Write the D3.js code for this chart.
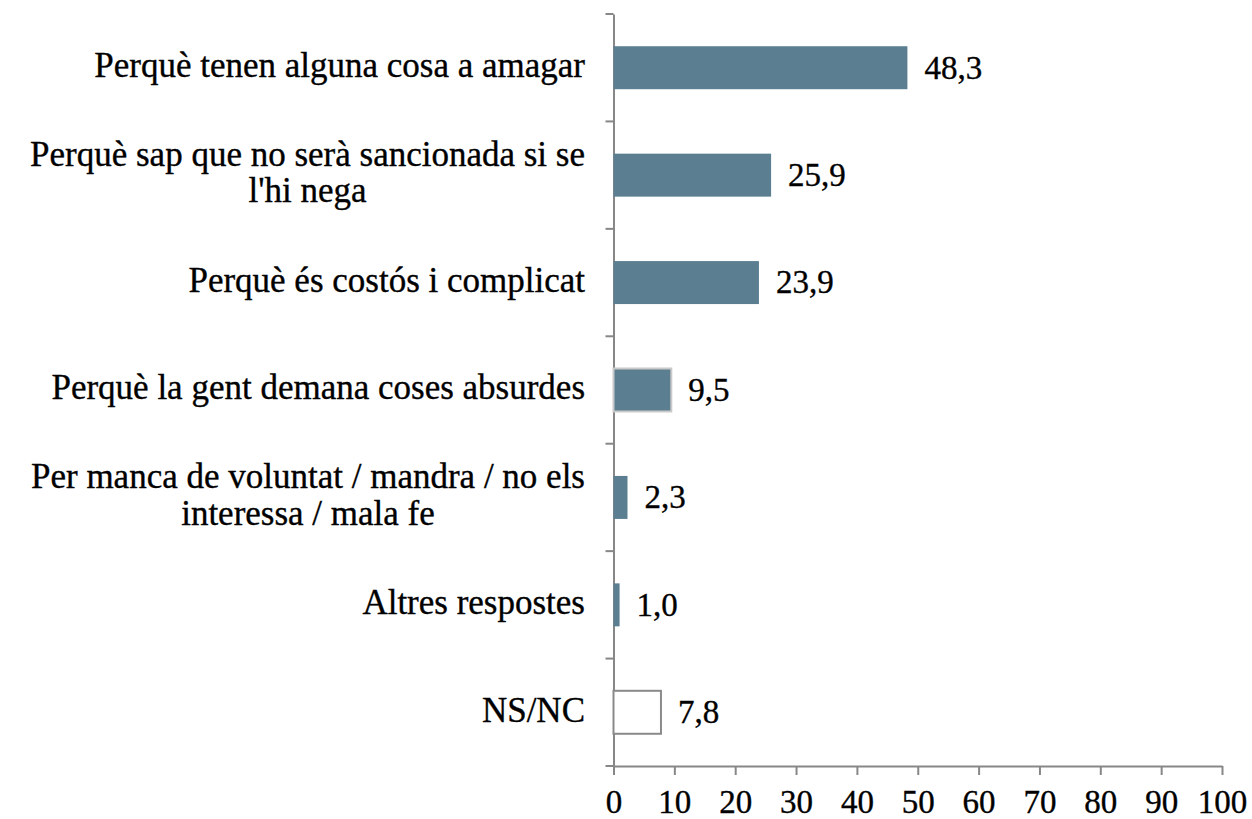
<!DOCTYPE html>
<html>
<head>
<meta charset="utf-8">
<script src="https://cdn.jsdelivr.net/npm/d3@7"></script>
<style>
  body { margin: 0; background: #fff; }
  svg text { font-family: "Liberation Serif", serif; fill: #000; stroke: #000; stroke-width: 0.35px; }
</style>
</head>
<body>
<svg id="chart" width="1252" height="819"></svg>
<script>
let categories = [
    ["Perquè tenen alguna cosa a amagar"],
    ["Perquè sap que no serà sancionada si se", "l'hi nega"],
    ["Perquè és costós i complicat"],
    ["Perquè la gent demana coses absurdes"],
    ["Per manca de voluntat / mandra / no els", "interessa / mala fe"],
    ["Altres respostes"],
    ["NS/NC"],
]
let values = [48.3, 25.9, 23.9, 9.5, 2.3, 1.0, 7.8]
let tickValues = [0, 10, 20, 30, 40, 50, 60, 70, 80, 90, 100]
// bar style by row: normal, outlined, or empty (NS/NC)
let barKinds = ['fill', 'fill', 'fill', 'outline', 'fill', 'fill', 'empty']

let svg = d3.select('#chart');
let plotLeft = 613.5, plotRight = 1222, plotTop = 14, plotBottom = 766;
let labelRight = 585;
let fmt = v => v.toFixed(1).replace('.', ',');

let x = d3.scaleLinear().domain([0, 100]).range([plotLeft, plotRight]);
let y = d3.scaleBand().domain(d3.range(values.length)).range([plotTop, plotBottom]).padding(0);
let step = y.step();
let barH = step * 0.4;

// axes
let xAxis = svg.append('g')
    .attr('transform', `translate(0,${plotBottom})`)
    .call(d3.axisBottom(x).tickValues(tickValues).tickSize(9).tickPadding(15).tickSizeOuter(0));
xAxis.selectAll('text')
    .style('font-size', '33px')
    .style('font-family', '"Liberation Serif", serif')
    .attr('fill', '#000');

let yAxis = svg.append('g')
    .attr('transform', `translate(${plotLeft},0)`)
    .call(d3.axisLeft(y).tickSize(0).tickFormat(''));
yAxis.selectAll('.tick').remove();
// category boundary ticks
yAxis.selectAll('line.sep')
    .data(d3.range(values.length + 1))
    .enter().append('line')
    .attr('class', 'sep')
    .attr('x1', -8).attr('x2', 0)
    .attr('y1', i => plotTop + i * step)
    .attr('y2', i => plotTop + i * step);

svg.selectAll('.domain, .tick line, line.sep')
    .attr('stroke', '#878787')
    .attr('stroke-width', 2);

// bars
svg.append('g').selectAll('rect')
    .data(values)
    .enter().append('rect')
    .attr('x', x(0))
    .attr('y', (d, i) => y(i) + (step - barH) / 2)
    .attr('width', d => x(d) - x(0))
    .attr('height', barH)
    .attr('fill', (d, i) => barKinds[i] === 'empty' ? '#fff' : '#5b7e91')
    .attr('stroke', (d, i) => barKinds[i] === 'empty' ? '#8a8a8a' : (barKinds[i] === 'outline' ? '#c9c9c9' : 'none'))
    .attr('stroke-width', 2);

// value labels
svg.append('g').selectAll('text')
    .data(values)
    .enter().append('text')
    .attr('x', d => x(d) + 17)
    .attr('y', (d, i) => y(i) + step / 2)
    .attr('dy', '0.33em')
    .style('font-size', '33px')
    .text(fmt);

// category labels: block right-aligned, lines centered within it
let labels = svg.append('g').selectAll('text')
    .data(categories)
    .enter().append('text')
    .attr('y', (d, i) => y(i) + step / 2)
    .style('font-size', '35px')
    .attr('text-anchor', 'middle');

labels.each(function (lines) {
    let t = d3.select(this);
    let spans = lines.map((line, j) => t.append('tspan')
        .attr('dy', j === 0 ? (0.27 - (lines.length - 1) * 0.53) + 'em' : '1.04em')
        .text(line));
    let w = d3.max(spans, s => s.node().getComputedTextLength());
    spans.forEach(s => s.attr('x', labelRight - w / 2));
});
</script>
</body>
</html>
